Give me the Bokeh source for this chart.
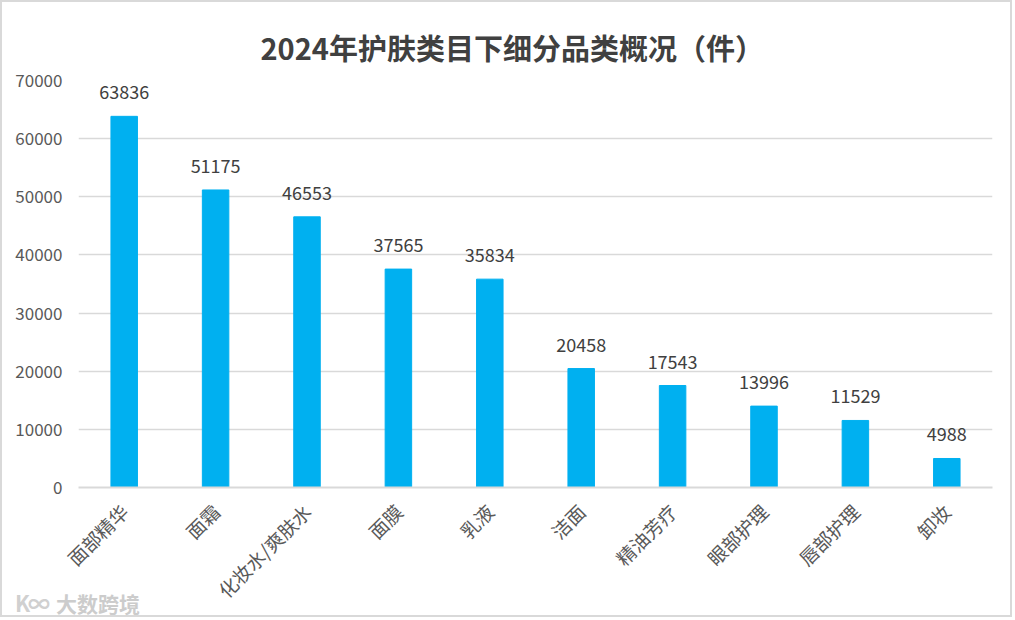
from math import pi
from bokeh.plotting import figure
from bokeh.layouts import column
from bokeh.models import ColumnDataSource, LabelSet, Div, FixedTicker, NumeralTickFormatter
from bokeh.core.properties import value
from bokeh.embed import file_html
from bokeh.resources import INLINE

categories = ["面部精华", "面霜", "化妆水/爽肤水", "面膜", "乳液", "洁面", "精油芳疗", "眼部护理", "唇部护理", "卸妆"]
values = [63836, 51175, 46553, 37565, 35834, 20458, 17543, 13996, 11529, 4988]
y_ticks = [0, 10000, 20000, 30000, 40000, 50000, 60000, 70000]

src = ColumnDataSource(dict(cat=categories, val=values, lab=[str(v) for v in values]))

FONT = "Noto Sans CJK SC"

p = figure(width=1012, height=617, x_range=categories, y_range=(0, 70000),
           output_backend="svg", toolbar_location=None,
           min_border_left=76, min_border_right=22, min_border_top=78, min_border_bottom=132)

p.title.text = "2024年护肤类目下细分品类概况（件）"
p.title.align = "left"
p.title.offset = 182
p.title.text_font = FONT
p.title.text_font_size = "29px"
p.title.text_font_style = "bold"
p.title.text_color = "#404040"
p.title.standoff = 26

p.vbar(x="cat", top="val", width=0.29, source=src, color="#00B0F0")

labels = LabelSet(x="cat", y="val", text="lab", source=src, text_align="center",
                  text_baseline="middle", y_offset=24, text_font_size="18px",
                  text_color="#404040", text_font=value(FONT))
p.add_layout(labels)

p.yaxis.ticker = FixedTicker(ticks=y_ticks)
p.yaxis.formatter = NumeralTickFormatter(format="0")
p.yaxis.axis_line_color = None
p.yaxis.major_tick_line_color = None
p.yaxis.minor_tick_line_color = None
p.yaxis.major_label_text_font_size = "17px"
p.yaxis.major_label_text_color = "#595959"
p.yaxis.major_label_text_font = FONT
p.yaxis.major_label_standoff = 10

p.xaxis.axis_line_color = "#d9d9d9"
p.xaxis.axis_line_width = 2
p.xaxis.major_tick_line_color = None
p.xaxis.minor_tick_line_color = None
p.xaxis.major_label_orientation = pi / 4
p.xaxis.major_label_text_font_size = "19px"
p.xaxis.major_label_text_color = "#595959"
p.xaxis.major_label_text_font = FONT
p.xaxis.major_label_standoff = 14

p.xgrid.grid_line_color = None
p.ygrid.grid_line_color = "#d9d9d9"
p.ygrid.grid_line_width = 1.5
p.outline_line_color = None

p.styles = {"border": "2px solid #d9d9d9", "box-sizing": "border-box"}

wm = Div(text='<span style="font-size:22px;color:#d0d0d0;font-weight:bold;letter-spacing:-2px">K∞</span>'
              '<span style="font-size:21px;color:#cccccc;font-weight:bold;margin-left:8px">大数跨境</span>',
         width=150, height=30,
         styles={"position": "absolute", "left": "10px", "top": "582px",
                 "font-family": FONT, "z-index": "10"})

layout = column(p, wm)

open("out.html", "w").write(file_html(layout, INLINE))
